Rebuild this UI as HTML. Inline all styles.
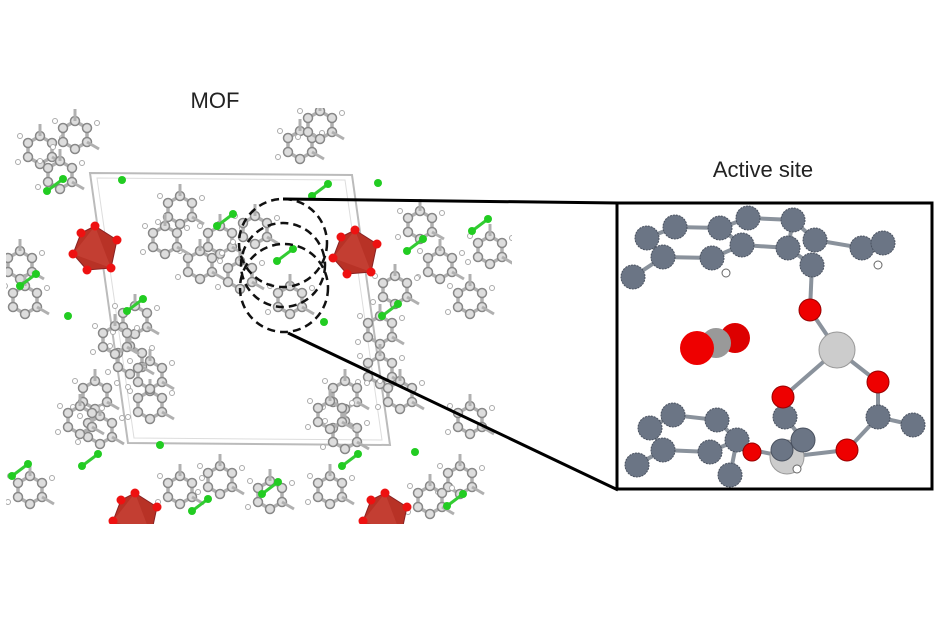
<!DOCTYPE html>
<html><head><meta charset="utf-8"><style>
html,body{margin:0;padding:0;background:#fff;width:938px;height:638px;overflow:hidden}
svg{display:block}
text{font-family:"Liberation Sans",sans-serif;fill:#222}
</style></head><body>
<svg width="938" height="638" viewBox="0 0 938 638">
<defs>
<g id="ring">
<polygon points="0,-14 12,-7 12,7 0,14 -12,7 -12,-7" fill="none" stroke="#b0b0b0" stroke-width="3.5"/>
<g fill="#ddd" stroke="#888" stroke-width="1.5">
<circle cx="0" cy="-14" r="4.5"/><circle cx="12" cy="-7" r="4.5"/><circle cx="12" cy="7" r="4.5"/>
<circle cx="0" cy="14" r="4.5"/><circle cx="-12" cy="7" r="4.5"/><circle cx="-12" cy="-7" r="4.5"/>
</g>
<line x1="12" y1="7" x2="24" y2="14" stroke="#b0b0b0" stroke-width="3"/>
<line x1="0" y1="-14" x2="0" y2="-26" stroke="#b0b0b0" stroke-width="3"/>
<g fill="#fff" stroke="#aaa" stroke-width="1"><circle cx="22" cy="-12" r="2.5"/><circle cx="-22" cy="12" r="2.5"/><circle cx="-20" cy="-14" r="2.5"/></g>
</g>
<g id="cl"><line x1="-8" y1="6" x2="8" y2="-6" stroke="#3c3" stroke-width="3"/><circle cx="-8" cy="6" r="4" fill="#2c2"/><circle cx="8" cy="-6" r="4" fill="#2c2"/></g>
<g id="oct"><polygon points="0,-22 22,-8 16,20 -8,22 -22,6 -14,-15" fill="#b83226" stroke="#822" stroke-width="1"/><polygon points="0,-22 16,20 -22,6" fill="#c9463a" opacity="0.6"/><g fill="#e11"><circle cx="0" cy="-22" r="4.5"/><circle cx="22" cy="-8" r="4.5"/><circle cx="16" cy="20" r="4.5"/><circle cx="-8" cy="22" r="4.5"/><circle cx="-22" cy="6" r="4.5"/><circle cx="-14" cy="-15" r="4.5"/></g></g>
<clipPath id="lc"><rect x="6" y="108" width="506" height="416"/></clipPath>
</defs>
<text x="215" y="108" font-size="22" text-anchor="middle">MOF</text>
<text x="763" y="177" font-size="22" text-anchor="middle">Active site</text>

<g clip-path="url(#lc)">
<polygon points="90,173 352,175 390,445 128,443" fill="none" stroke="#bbb" stroke-width="2"/>
<polygon points="97,178 345,180 382,440 134,438" fill="none" stroke="#ddd" stroke-width="1"/>
<use href="#ring" x="40" y="150"/><use href="#ring" x="75" y="135"/><use href="#ring" x="20" y="265"/>
<use href="#ring" x="60" y="175"/><use href="#ring" x="25" y="300"/>
<use href="#ring" x="180" y="210"/><use href="#ring" x="220" y="240"/><use href="#ring" x="300" y="145"/>
<use href="#ring" x="320" y="125"/><use href="#ring" x="440" y="265"/><use href="#ring" x="470" y="300"/>
<use href="#ring" x="200" y="265"/><use href="#ring" x="255" y="230"/><use href="#ring" x="165" y="240"/>
<use href="#ring" x="135" y="320"/><use href="#ring" x="130" y="360"/><use href="#ring" x="95" y="395"/>
<use href="#ring" x="100" y="430"/><use href="#ring" x="150" y="405"/><use href="#ring" x="380" y="330"/>
<use href="#ring" x="115" y="340"/><use href="#ring" x="80" y="420"/><use href="#ring" x="150" y="375"/>
<use href="#ring" x="380" y="370"/><use href="#ring" x="345" y="395"/><use href="#ring" x="345" y="435"/>
<use href="#ring" x="330" y="415"/><use href="#ring" x="400" y="395"/><use href="#ring" x="395" y="290"/>
<use href="#ring" x="220" y="480"/><use href="#ring" x="270" y="495"/><use href="#ring" x="460" y="480"/>
<use href="#ring" x="30" y="490"/><use href="#ring" x="330" y="490"/><use href="#ring" x="420" y="225"/>
<use href="#ring" x="240" y="275"/><use href="#ring" x="290" y="300"/><use href="#ring" x="470" y="420"/>
<use href="#ring" x="180" y="490"/><use href="#ring" x="430" y="500"/><use href="#ring" x="490" y="250"/>
<use href="#cl" x="55" y="185"/><use href="#cl" x="225" y="220"/><use href="#cl" x="320" y="190"/>
<use href="#cl" x="28" y="280"/><use href="#cl" x="135" y="305"/><use href="#cl" x="285" y="255"/>
<use href="#cl" x="390" y="310"/><use href="#cl" x="480" y="225"/><use href="#cl" x="415" y="245"/>
<use href="#cl" x="90" y="460"/><use href="#cl" x="270" y="488"/><use href="#cl" x="350" y="460"/>
<use href="#cl" x="20" y="470"/><use href="#cl" x="200" y="505"/><use href="#cl" x="455" y="500"/>
<g fill="#2c2"><circle cx="122" cy="180" r="4"/><circle cx="378" cy="183" r="4"/><circle cx="68" cy="316" r="4"/><circle cx="160" cy="445" r="4"/><circle cx="415" cy="452" r="4"/><circle cx="324" cy="322" r="4"/></g>
<use href="#oct" x="95" y="248"/><use href="#oct" x="355" y="252"/>
<use href="#oct" x="135" y="515"/><use href="#oct" x="385" y="515"/>
</g>

<g fill="none" stroke="#111" stroke-width="2.5" stroke-dasharray="8,5">
<circle cx="283" cy="243" r="44"/><circle cx="283" cy="265" r="42"/><circle cx="284" cy="288" r="44"/>
</g>
<line x1="283" y1="199" x2="618" y2="203" stroke="#000" stroke-width="3"/>
<line x1="288" y1="333" x2="618" y2="490" stroke="#000" stroke-width="3"/>

<rect x="617" y="203" width="315" height="286" fill="#fff" stroke="#000" stroke-width="3"/>
<g stroke="#8a929c" stroke-width="4" fill="none">
<polyline points="647,238 675,227 720,228 748,218 793,220 815,240 862,248 883,243"/>
<polyline points="647,238 663,257 712,258 742,245 788,248 812,265"/>
<line x1="663" y1="257" x2="633" y2="277"/><line x1="720" y1="228" x2="742" y2="245"/><line x1="793" y1="220" x2="788" y2="248"/>
<line x1="812" y1="265" x2="810" y2="310"/><line x1="810" y1="310" x2="837" y2="350"/>
<line x1="837" y1="350" x2="878" y2="382"/><line x1="837" y1="350" x2="783" y2="397"/>
<line x1="878" y1="382" x2="878" y2="417"/><line x1="878" y1="417" x2="913" y2="425"/><line x1="878" y1="417" x2="847" y2="450"/>
<line x1="783" y1="397" x2="785" y2="417"/><line x1="785" y1="417" x2="803" y2="440"/><line x1="847" y1="450" x2="787" y2="457"/>
<polyline points="637,465 663,450 650,428 673,415 717,420 737,440 730,475"/>
<polyline points="663,450 710,452 737,440 752,450 787,457"/>
</g>
<g fill="#6b7585" stroke="#4a5260" stroke-width="1" stroke-dasharray="2,1">
<circle cx="647" cy="238" r="12"/><circle cx="675" cy="227" r="12"/><circle cx="663" cy="257" r="12"/>
<circle cx="633" cy="277" r="12"/><circle cx="712" cy="258" r="12"/><circle cx="720" cy="228" r="12"/>
<circle cx="748" cy="218" r="12"/><circle cx="742" cy="245" r="12"/><circle cx="793" cy="220" r="12"/>
<circle cx="788" cy="248" r="12"/><circle cx="815" cy="240" r="12"/><circle cx="812" cy="265" r="12"/>
<circle cx="862" cy="248" r="12"/><circle cx="883" cy="243" r="12"/>
<circle cx="650" cy="428" r="12"/><circle cx="673" cy="415" r="12"/><circle cx="717" cy="420" r="12"/>
<circle cx="663" cy="450" r="12"/><circle cx="637" cy="465" r="12"/><circle cx="710" cy="452" r="12"/>
<circle cx="737" cy="440" r="12"/><circle cx="730" cy="475" r="12"/>
<circle cx="878" cy="417" r="12"/><circle cx="913" cy="425" r="12"/><circle cx="785" cy="417" r="12"/>
</g>
<circle cx="787" cy="457" r="17" fill="#ccc" stroke="#999"/>
<g fill="#6b7585" stroke="#4a5260"><circle cx="803" cy="440" r="12"/><circle cx="782" cy="450" r="11"/></g>
<g fill="#e00" stroke="#900" stroke-width="1"><circle cx="810" cy="310" r="11"/><circle cx="878" cy="382" r="11"/><circle cx="783" cy="397" r="11"/><circle cx="847" cy="450" r="11"/><circle cx="752" cy="452" r="9"/></g>
<circle cx="837" cy="350" r="18" fill="#ccc" stroke="#999"/>
<g fill="#fff" stroke="#666"><circle cx="726" cy="273" r="4"/><circle cx="878" cy="265" r="4"/><circle cx="797" cy="469" r="4"/></g>
<circle cx="735" cy="338" r="15" fill="#d00"/>
<circle cx="716" cy="343" r="15" fill="#999"/>
<circle cx="697" cy="348" r="17" fill="#e00"/>
</svg>
</body></html>
